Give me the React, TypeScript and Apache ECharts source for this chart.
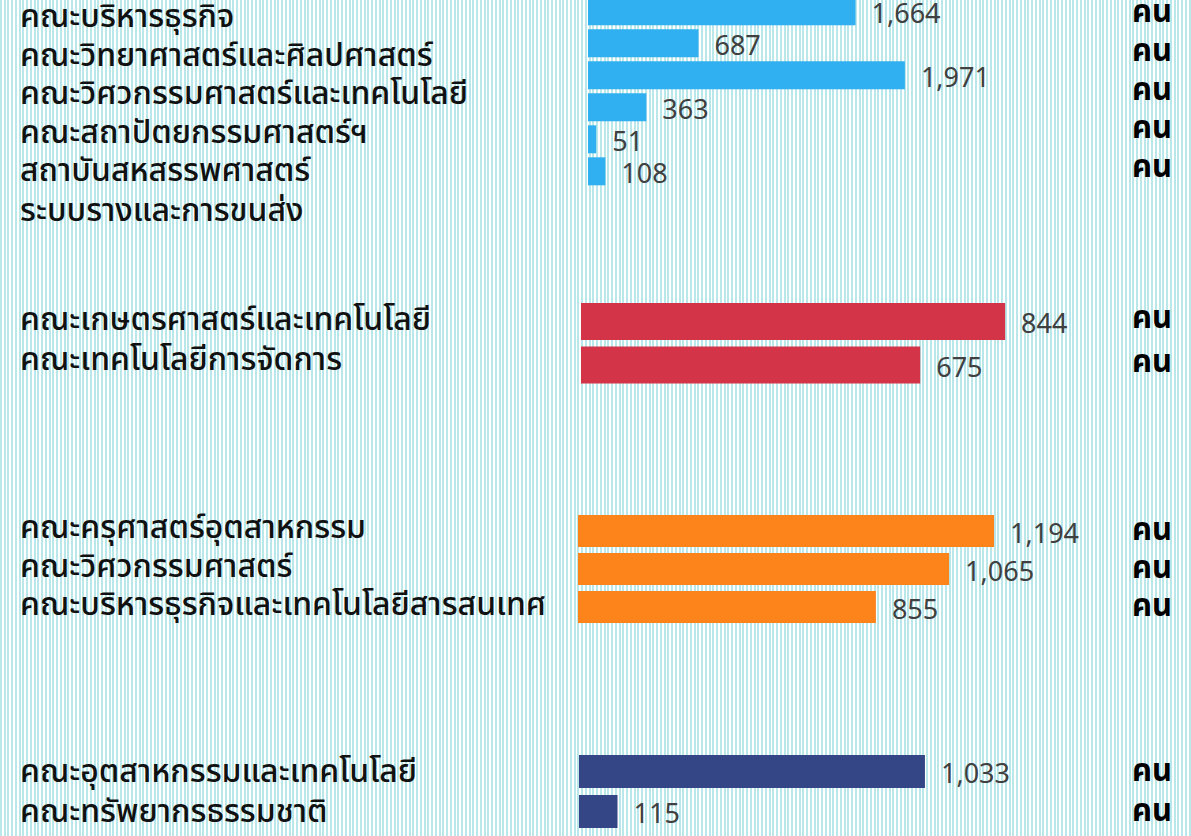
import React, { useEffect, useRef } from "react";
import * as echarts from "echarts";

// ---- Data ----
const UNIT = "คน";

const BLUE_VALUES = [1664, 687, 1971, 363, 51, 108];
const BLUE_NAMES = [
  "คณะบริหารธุรกิจ",
  "คณะวิทยาศาสตร์และศิลปศาสตร์",
  "คณะวิศวกรรมศาสตร์และเทคโนโลยี",
  "คณะสถาปัตยกรรมศาสตร์ฯ",
  "สถาบันสหสรรพศาสตร์\nระบบรางและการขนส่ง",
];

const RED_VALUES = [844, 675];
const RED_NAMES = ["คณะเกษตรศาสตร์และเทคโนโลยี", "คณะเทคโนโลยีการจัดการ"];

const ORANGE_VALUES = [1194, 1065, 855];
const ORANGE_NAMES = [
  "คณะครุศาสตร์อุตสาหกรรม",
  "คณะวิศวกรรมศาสตร์",
  "คณะบริหารธุรกิจและเทคโนโลยีสารสนเทศ",
];

const NAVY_VALUES = [1033, 115];
const NAVY_NAMES = ["คณะอุตสาหกรรมและเทคโนโลยี", "คณะทรัพยากรธรรมชาติ"];

// ---- Layout / style ----
const FONT = "'Noto Sans Thai', 'Noto Sans', 'Open Sans', sans-serif";
// the chart canvas starts OFF px above the page so the first (cropped) bar can be cut off
const OFF = 40;

const GROUPS = [
  {
    values: BLUE_VALUES, names: BLUE_NAMES, color: "#30b0f0",
    bar: { left: 588, top: -4.7, height: 192, max: 3110, barWidth: 28 },
    name: { top: -22.25, height: 192.5, vAlign: "top" },
    unit: { top: -6.5, height: 193 },
  },
  {
    values: RED_VALUES, names: RED_NAMES, color: "#d33448",
    bar: { left: 581, top: 299.75, height: 87, max: 995, barWidth: 37 },
    name: { top: 300.25, height: 79, vAlign: "middle" },
    unit: { top: 296, height: 88 },
  },
  {
    values: ORANGE_VALUES, names: ORANGE_NAMES, color: "#fd841b",
    bar: { left: 578, top: 512, height: 114, max: 1435, barWidth: 32 },
    name: { top: 508.75, height: 115.5, vAlign: "middle" },
    unit: { top: 511, height: 114 },
  },
  {
    values: NAVY_VALUES, names: NAVY_NAMES, color: "#354687",
    bar: { left: 579, top: 751.5, height: 80, max: 1493, barWidth: 33 },
    name: { top: 752.25, height: 79, vAlign: "middle" },
    unit: { top: 751.7, height: 80 },
  },
];

function buildOption() {
  const grid: any[] = [];
  const xAxis: any[] = [];
  const yAxis: any[] = [];
  const series: any[] = [];

  GROUPS.forEach((g) => {
    // bar grid
    const gb = grid.length;
    grid.push({ left: g.bar.left, top: g.bar.top + OFF, width: 500, height: g.bar.height });
    xAxis.push({ type: "value", gridIndex: gb, min: 0, max: g.bar.max, show: false });
    yAxis.push({
      type: "category", gridIndex: gb, inverse: true, show: false,
      data: g.values.map((_, i) => String(i)),
    });
    series.push({
      type: "bar",
      xAxisIndex: xAxis.length - 1,
      yAxisIndex: yAxis.length - 1,
      data: g.values,
      barWidth: g.bar.barWidth,
      itemStyle: { color: g.color },
      label: {
        show: true,
        position: "right",
        distance: 16,
        offset: [0, 3],
        color: "#404040",
        fontSize: 27,
        fontFamily: FONT,
        formatter: (p: any) => Number(p.value).toLocaleString("en-US"),
      },
    });

    // names grid
    const gn = grid.length;
    grid.push({ left: 20, top: g.name.top + OFF, width: 10, height: g.name.height });
    xAxis.push({ type: "value", gridIndex: gn, show: false });
    yAxis.push({
      type: "category", gridIndex: gn, inverse: true, data: g.names,
      axisLine: { show: false }, axisTick: { show: false },
      axisLabel: {
        show: true, margin: 0, align: "left", verticalAlign: g.name.vAlign,
        lineHeight: 40, color: "#111", fontSize: 32, fontWeight: 500,
        fontFamily: FONT, interval: 0,
      },
    });

    // units grid
    const gu = grid.length;
    grid.push({ left: 1100, top: g.unit.top + OFF, width: 10, height: g.unit.height });
    xAxis.push({ type: "value", gridIndex: gu, show: false });
    yAxis.push({
      type: "category", gridIndex: gu, inverse: true, position: "right", data: g.names,
      axisLine: { show: false }, axisTick: { show: false },
      axisLabel: {
        show: true, margin: 22, align: "left", color: "#000", fontSize: 31,
        fontWeight: "bold", fontFamily: FONT, interval: 0,
        formatter: () => UNIT,
      },
    });
  });

  return { animation: false, backgroundColor: "transparent", grid, xAxis, yAxis, series };
}

export default function App() {
  const ref = useRef<HTMLDivElement>(null);
  useEffect(() => {
    if (!ref.current) return;
    const chart = echarts.init(ref.current, undefined, { renderer: "svg" });
    chart.setOption(buildOption());
    return () => chart.dispose();
  }, []);
  return (
    <div
      style={{
        position: "absolute",
        left: 0,
        top: 0,
        width: 1191,
        height: 836,
        overflow: "hidden",
        background:
          "repeating-linear-gradient(90deg, #b9e7ea 0px, #b9e7ea 2px, #ffffff 2px, #ffffff 3.75px)",
      }}
    >
      <div
        ref={ref}
        style={{ position: "absolute", left: 0, top: -OFF, width: 1191, height: 836 + OFF }}
      />
    </div>
  );
}
